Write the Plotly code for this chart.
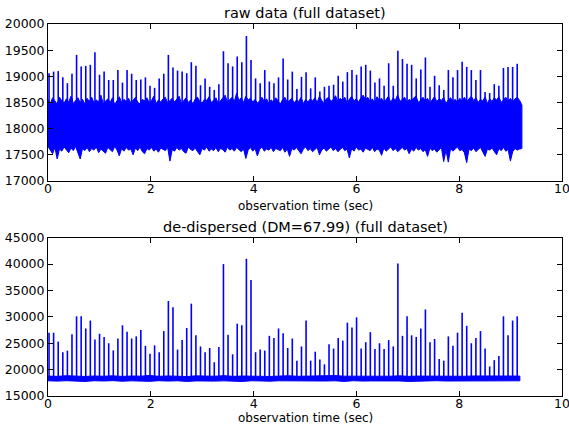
import numpy as np
import plotly.graph_objects as go
from plotly.subplots import make_subplots

# Pulse timing (Vela-like pulsar, DM = 67.99)
period = 0.0893       # sec
first_pulse = 0.02    # sec
end_time = 9.22       # sec

# Peak of each pulse in the raw time series
raw_peak = [
    19060, 19090, 19100, 18980, 18870, 19050, 19410, 19190, 19200, 19220,
    19460, 19030, 19090, 18930, 18930, 19120, 18880, 19120, 19050, 18930,
    18940, 18980, 18820, 18780, 18960, 19050, 19410, 19170, 19110, 19090,
    19060, 19270, 19200, 18830, 18960, 18800, 18740, 18850, 19480, 19250,
    19190, 19380, 19270, 19770, 19310, 18960, 18870, 19120, 18900, 18870,
    18980, 19340, 18940, 19090, 18760, 18990, 19080, 18770, 18980, 18710,
    18800, 18820, 18840, 19010, 18900, 19080, 19120, 19030, 19190, 19220,
    19110, 18880, 18960, 18820, 19250, 18820, 19490, 19330, 19240, 19220,
    18960, 19130, 19360, 18800, 19010, 18830, 18740, 19120, 18980, 19120,
    19280, 19180, 19120, 18930, 19120, 18700, 18680, 18850, 18820, 19160,
    19180, 19180, 19240,
]

# Peak of each pulse after de-dispersion
dd_peak = [
    27000, 27000, 25300, 23300, 23600, 26700, 30100, 30100, 27800, 29300,
    25700, 26800, 26200, 25000, 23650, 25900, 28400, 27200, 25900, 26300,
    27500, 24500, 23000, 24600, 23300, 27300, 33000, 31800, 23800, 25600,
    27900, 32500, 26500, 24400, 23300, 24100, 21400, 24300, 40000, 26600,
    22900, 28700, 28400, 41000, 37000, 23300, 23800, 23600, 26400, 26000,
    27800, 26900, 24100, 25900, 21700, 24400, 29300, 21700, 23400, 21900,
    21000, 24800, 24000, 26000, 25500, 28900, 28000, 29900, 24000, 25200,
    27100, 23900, 25000, 23900, 25600, 24400, 40100, 26400, 30100, 26500,
    26200, 27800, 31400, 25200, 25800, 22000, 21700, 26300, 24500, 27000,
    30800, 28300, 25000, 26000, 27300, 24000, 20600, 21800, 22600, 30100,
    26500, 29300, 30100,
]

# Upper / lower envelope of the raw noise band (half-period bins)
raw_upper = [
    18560, 18480, 18590, 18520, 18470, 18600, 18530, 18490, 18570, 18510, 18620, 18480, 18540, 18590, 18500, 18560, 18470, 18580,
    18520, 18600, 18490, 18550, 18510, 18640, 18480, 18530, 18570, 18500, 18590, 18460, 18540, 18610, 18500, 18560, 18520, 18580,
    18490, 18550, 18600, 18510, 18470, 18560, 18530, 18590, 18500, 18540, 18620, 18480, 18550, 18510, 18570, 18600, 18490, 18540,
    18580, 18510, 18560, 18620, 18480, 18530, 18590, 18500, 18550, 18470, 18570, 18600, 18520, 18490, 18560, 18540, 18610, 18500,
    18550, 18590, 18480, 18530, 18570, 18640, 18510, 18560, 18600, 18520, 18680, 18540, 18590, 18500, 18620, 18550, 18580, 18510,
    18560, 18490, 18530, 18600, 18520, 18570, 18480, 18550, 18510, 18590, 18530, 18470, 18560, 18600, 18500, 18540, 18580, 18490,
    18550, 18520, 18600, 18480, 18560, 18510, 18570, 18530, 18590, 18500, 18620, 18540, 18480, 18570, 18600, 18520, 18560, 18630,
    18510, 18580, 18540, 18600, 18490, 18560, 18620, 18530, 18570, 18510, 18590, 18640, 18550, 18600, 18520, 18570, 18490, 18610,
    18540, 18580, 18510, 18560, 18620, 18500, 18590, 18540, 18650, 18520, 18570, 18600, 18510, 18560, 18530, 18590, 18620, 18500,
    18550, 18600, 18530, 18580, 18490, 18560, 18610, 18520, 18570, 18540, 18600, 18480, 18550, 18590, 18520, 18560, 18500, 18580,
    18530, 18600, 18510, 18570, 18620, 18540, 18590, 18500, 18560, 18530, 18610, 18480, 18570, 18520, 18590, 18550, 18610, 18500,
    18560, 18600, 18530, 18580, 18510, 18570, 18600, 18540, 18450,
]
raw_lower = [
    17660, 17600, 17520, 17640, 17420, 17610, 17570, 17650, 17590, 17540, 17630, 17580, 17660, 17550, 17420, 17620, 17580, 17640,
    17560, 17620, 17590, 17650, 17540, 17610, 17580, 17530, 17640, 17600, 17560, 17660, 17590, 17480, 17620, 17570, 17640, 17590,
    17610, 17500, 17630, 17580, 17650, 17560, 17520, 17620, 17590, 17640, 17570, 17610, 17550, 17630, 17600, 17580, 17640, 17380,
    17600, 17570, 17640, 17590, 17620, 17560, 17530, 17650, 17600, 17580, 17630, 17560, 17500, 17620, 17590, 17650, 17570, 17610,
    17580, 17640, 17560, 17620, 17600, 17550, 17650, 17590, 17620, 17570, 17640, 17600, 17560, 17610, 17430, 17590, 17640, 17570,
    17620, 17480, 17600, 17650, 17570, 17610, 17590, 17640, 17560, 17620, 17600, 17580, 17640, 17550, 17610, 17470, 17620, 17590,
    17640, 17570, 17520, 17610, 17650, 17580, 17620, 17560, 17600, 17640, 17500, 17590, 17630, 17570, 17610, 17650, 17580, 17620,
    17560, 17600, 17640, 17580, 17610, 17440, 17620, 17570, 17650, 17590, 17610, 17550, 17630, 17600, 17580, 17640, 17560, 17610,
    17590, 17490, 17630, 17570, 17610, 17650, 17580, 17620, 17560, 17600, 17640, 17590, 17620, 17520, 17610, 17570, 17640, 17590,
    17620, 17560, 17600, 17470, 17630, 17580, 17610, 17550, 17600, 17640, 17370, 17590, 17360, 17620, 17570, 17610, 17650, 17580,
    17600, 17540, 17350, 17610, 17580, 17630, 17560, 17600, 17640, 17570, 17470, 17610, 17590, 17630, 17560, 17500, 17620, 17580,
    17640, 17570, 17600, 17380, 17560, 17620, 17590, 17610, 17620,
]

# Upper / lower envelope of the de-dispersed baseline
dd_upper = [
    18780, 18720, 18850, 18760, 18700, 18800, 18740, 18830, 18710, 18790,
    18760, 18900, 18730, 18800, 18750, 18690, 18820, 18770, 18740, 18860,
    18720, 18790, 18750, 18810, 18700, 18780, 18840, 18730, 18770, 18800,
    18720, 18880, 18760, 18740, 18810, 18700, 18790, 18750, 18830, 18720,
    18780, 18760, 18850, 18710, 18790, 18740, 18800, 18770, 18730, 18820,
    18760, 18780,
]
dd_lower = [
    17880, 17820, 17900, 17850, 17760, 17890, 17840, 17910, 17800, 17870,
    17850, 17780, 17900, 17830, 17880, 17760, 17860, 17900, 17820, 17870,
    17840, 17750, 17890, 17850, 17810, 17880, 17830, 17900, 17790, 17860,
    17840, 17880, 17770, 17900, 17830, 17860, 17810, 17890, 17850, 17760,
    17880, 17830, 17900, 17840, 17780, 17870, 17850, 17800, 17890, 17840,
    17860, 17880,
]

x_ticks = [0, 2, 4, 6, 8, 10]
raw_y_ticks = [17000, 17500, 18000, 18500, 19000, 19500, 20000]
dd_y_ticks = [15000, 20000, 25000, 30000, 35000, 40000, 45000]

BLUE = "#0000ff"
FONT = "DejaVu Sans, Arial, sans-serif"

pulse_t = [first_pulse + n * period for n in range(len(dd_peak))]


def band_trace(upper, lower, t_end):
    t = list(np.linspace(0.0, t_end, len(upper)))
    tl = list(np.linspace(0.0, t_end, len(lower)))
    return go.Scatter(
        x=t + tl[::-1], y=list(upper) + list(lower)[::-1],
        mode="lines", fill="toself", fillcolor=BLUE,
        line=dict(color=BLUE, width=1), hoverinfo="skip", showlegend=False,
    )


def spike_trace(times, peaks, base):
    xs, ys = [], []
    for t, p in zip(times, peaks):
        xs += [t, t, None]
        ys += [base, p, None]
    return go.Scatter(x=xs, y=ys, mode="lines",
                      line=dict(color=BLUE, width=1.6),
                      hoverinfo="skip", showlegend=False)


fig = make_subplots(rows=2, cols=1, vertical_spacing=0.0)

fig.add_trace(band_trace(raw_upper, raw_lower, end_time), row=1, col=1)
fig.add_trace(spike_trace(pulse_t, raw_peak, 18400), row=1, col=1)
fig.add_trace(band_trace(dd_upper, dd_lower, 9.18), row=2, col=1)
fig.add_trace(spike_trace(pulse_t, dd_peak, 18400), row=2, col=1)

axis_style = dict(
    showgrid=False, zeroline=False, showline=True, linecolor="black",
    linewidth=1, mirror="ticks", ticks="inside", ticklen=5,
    tickcolor="black", tickwidth=1, automargin=False,
    ticklabeloverflow="allow",
    tickfont=dict(family=FONT, size=12.5, color="black"),
)

fig.update_xaxes(axis_style)
fig.update_yaxes(axis_style)
fig.update_xaxes(range=[0, 10], tickvals=x_ticks, ticklabelstandoff=-4)
fig.update_yaxes(range=[17000, 20000], tickvals=raw_y_ticks,
                 tickformat="d", domain=[0.578, 1.0], row=1, col=1)
fig.update_yaxes(range=[15000, 45000], tickvals=dd_y_ticks,
                 tickformat="d", domain=[0.0, 0.4255], row=2, col=1)

ann_font_title = dict(family=FONT, size=14.5, color="black")
ann_font_label = dict(family=FONT, size=12, color="black")
fig.update_layout(
    width=569, height=425,
    margin=dict(l=48, r=7, t=24, b=29, autoexpand=False),
    paper_bgcolor="white", plot_bgcolor="white",
    showlegend=False,
    annotations=[
        dict(text="raw data (full dataset)", x=0.5, y=1.0296,
             xref="paper", yref="paper", showarrow=False,
             xanchor="center", yanchor="middle", font=ann_font_title),
        dict(text="observation time (sec)", x=0.5, y=0.512,
             xref="paper", yref="paper", showarrow=False, borderpad=0,
             xanchor="center", yanchor="middle", font=ann_font_label),
        dict(text="de-dispersed (DM=67.99) (full dataset)", x=0.5, y=0.454,
             xref="paper", yref="paper", showarrow=False,
             xanchor="center", yanchor="middle", font=ann_font_title),
        dict(text="observation time (sec)", x=0.5, y=-0.060,
             xref="paper", yref="paper", showarrow=False, borderpad=0,
             xanchor="center", yanchor="middle", font=ann_font_label),
    ],
)

fig.write_html("out.html")
